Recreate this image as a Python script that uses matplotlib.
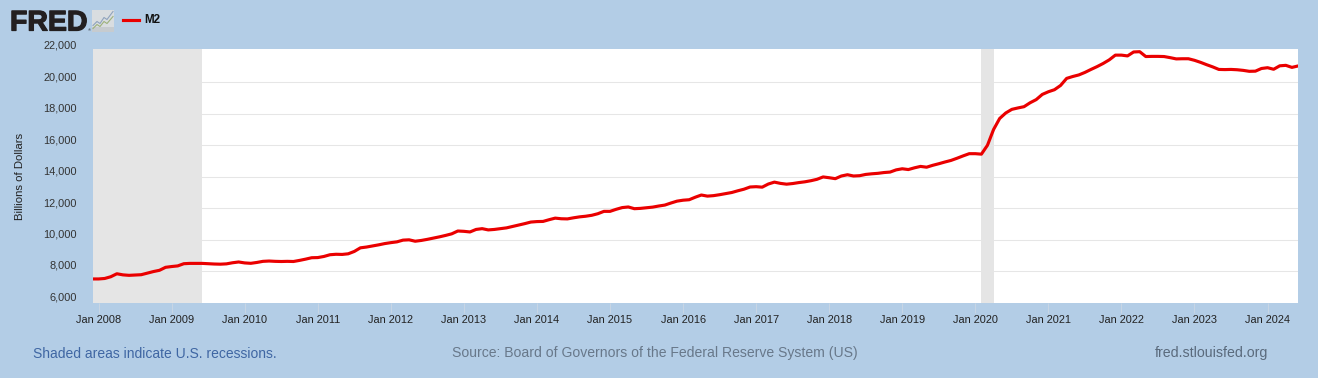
import matplotlib
matplotlib.use('Agg')
import matplotlib.pyplot as plt
from matplotlib.patches import Rectangle
from matplotlib.transforms import ScaledTranslation
import matplotlib.patheffects as pe

plt.rcParams['font.family'] = ['Liberation Sans', 'DejaVu Sans']

W = 1318
H = 378
BG = '#b3cde6'
RED = '#ea0000'
GRID = '#e6e6e6'
SHADE = '#e5e5e5'

# monthly, Dec 2007 to Jun 2024
m2_2007 = [7490]
m2_2008 = [7490, 7520, 7630, 7820, 7750, 7720, 7740, 7760, 7860, 7960, 8040, 8230]
m2_2009 = [8280, 8320, 8460, 8480, 8480, 8480, 8460, 8440, 8430, 8450, 8520, 8570]
m2_2010 = [8510, 8485, 8540, 8610, 8630, 8610, 8600, 8610, 8600, 8670, 8750, 8840]
m2_2011 = [8850, 8920, 9030, 9060, 9050, 9090, 9240, 9470, 9520, 9590, 9660, 9740]
m2_2012 = [9800, 9850, 9960, 9980, 9890, 9940, 10010, 10090, 10170, 10260, 10360, 10540]
m2_2013 = [10520, 10480, 10640, 10690, 10610, 10640, 10690, 10740, 10830, 10920, 11010, 11110]
m2_2014 = [11140, 11150, 11260, 11360, 11320, 11310, 11380, 11440, 11480, 11540, 11640, 11790]
m2_2015 = [11790, 11920, 12030, 12070, 11960, 11980, 12020, 12060, 12130, 12190, 12320, 12440]
m2_2016 = [12500, 12530, 12690, 12830, 12760, 12790, 12850, 12920, 12990, 13100, 13200, 13340]
m2_2017 = [13360, 13330, 13530, 13650, 13570, 13520, 13560, 13620, 13670, 13740, 13830, 13980]
m2_2018 = [13930, 13870, 14040, 14120, 14040, 14060, 14140, 14180, 14210, 14260, 14290, 14430]
m2_2019 = [14500, 14450, 14560, 14650, 14600, 14720, 14820, 14930, 15030, 15170, 15320, 15460]
m2_2020 = [15460, 15430, 16000, 17000, 17700, 18050, 18280, 18370, 18450, 18700, 18900, 19230]
m2_2021 = [19400, 19530, 19800, 20250, 20370, 20470, 20630, 20820, 21000, 21200, 21430, 21730]
m2_2022 = [21730, 21680, 21930, 21950, 21640, 21650, 21650, 21640, 21570, 21490, 21500, 21500]
m2_2023 = [21400, 21270, 21120, 20980, 20820, 20810, 20820, 20800, 20760, 20700, 20710, 20880]
m2_2024 = [20930, 20830, 21050, 21080, 20950, 21040]

m2 = (m2_2007 + m2_2008 + m2_2009 + m2_2010 + m2_2011 + m2_2012 + m2_2013 + m2_2014
      + m2_2015 + m2_2016 + m2_2017 + m2_2018 + m2_2019 + m2_2020 + m2_2021 + m2_2022
      + m2_2023 + m2_2024)
months = list(range(len(m2)))

tick_months = list(range(1, len(m2), 12))
tick_labels = ['Jan %d' % (2008 + i) for i in range(len(tick_months))]
y_ticks = [6000, 8000, 10000, 12000, 14000, 16000, 18000, 20000, 22000]
recessions = [(0, 18), (146, 148)]

fig = plt.figure(figsize=(W / 100, H / 100), dpi=100, facecolor=BG)

L, R, T, B = 92.5, 1298, 49, 303
ax = fig.add_axes([L / W, 1 - B / H, (R - L) / W, (B - T) / H])
ax.set_facecolor('white')
for s in ax.spines.values():
    s.set_visible(False)
ax.set_xlim(0, len(m2) - 1)
ax.set_ylim(5960, 22120)

for a, b in recessions:
    ax.axvspan(a, b, color=SHADE, lw=0, zorder=1)

ax.set_yticks(y_ticks)
ax.set_yticklabels(['{:,}'.format(v) for v in y_ticks])
ax.set_xticks(tick_months)
ax.set_xticklabels(tick_labels)
ax.grid(axis='y', color=GRID, lw=0.75, zorder=0)
ax.set_axisbelow(True)
ax.tick_params(axis='y', length=0, pad=11.2, labelsize=7.9, labelcolor='#333333')
ax.tick_params(axis='x', length=7, width=0.7, color='#c8d6e4', pad=1.5, labelsize=7.9, labelcolor='#222222')

# FRED puts the y labels above their gridlines
up = ScaledTranslation(0, 6 / 100, fig.dpi_scale_trans)
for t in ax.yaxis.get_major_ticks():
    t.label1.set_transform(t.label1.get_transform() + up)
    if t.get_loc() in (6000, 22000):
        t.gridline.set_visible(False)

ax.plot(months, m2, color=RED, lw=2.25, solid_joinstyle='round', zorder=3)

fig.text(20 / W, 1 - 176 / H, 'Billions of Dollars', rotation=90, ha='center', va='center',
         fontsize=8.2, color='#222222')

# header
fig.text(10 / W, 1 - 30.5 / H, 'FRED', fontsize=20.5, fontweight='bold', color='#231f20', va='baseline',
         path_effects=[pe.withStroke(linewidth=0.9, foreground='#231f20')])
fig.text(87.5 / W, 1 - 31.5 / H, '®', fontsize=3, color='#231f20')

icon = fig.add_axes([92 / W, 1 - 31.5 / H, 22 / W, 22 / H])
icon.set_xlim(0, 22)
icon.set_ylim(0, 22)
icon.axis('off')
icon.add_patch(Rectangle((0, 0), 22, 22, color='#d9dde0', lw=0))
icon.add_patch(Rectangle((0, 0), 22, 5, color='#c6cbcf', lw=0))
icon.plot([1, 5, 8, 12, 15, 21], [6, 10, 8, 14, 12, 20], color='#8fa3bd', lw=0.8)
icon.plot([1, 5, 8, 12, 15, 21], [3, 7, 5, 10, 8, 15], color='#9db27c', lw=0.8)

fig.add_artist(plt.Line2D([123 / W, 139 / W], [1 - 20 / H, 1 - 20 / H], color=RED, lw=2.25))
fig.text(144 / W, 1 - 20 / H, 'M2', fontsize=8.4, fontweight='bold', color='#111111', va='center')

# footer
fig.text(33 / W, 1 - 353.5 / H, 'Shaded areas indicate U.S. recessions.', fontsize=10, color='#3f66a3', va='center')
fig.text(452 / W, 1 - 353.5 / H, 'Source: Board of Governors of the Federal Reserve System (US)', fontsize=10.1,
         color='#68788a', va='center')
fig.text(1155 / W, 1 - 353.5 / H, 'fred.stlouisfed.org', fontsize=10.2, color='#5a6a7c', va='center')

fig.savefig('out.png', dpi=100, facecolor=BG)
